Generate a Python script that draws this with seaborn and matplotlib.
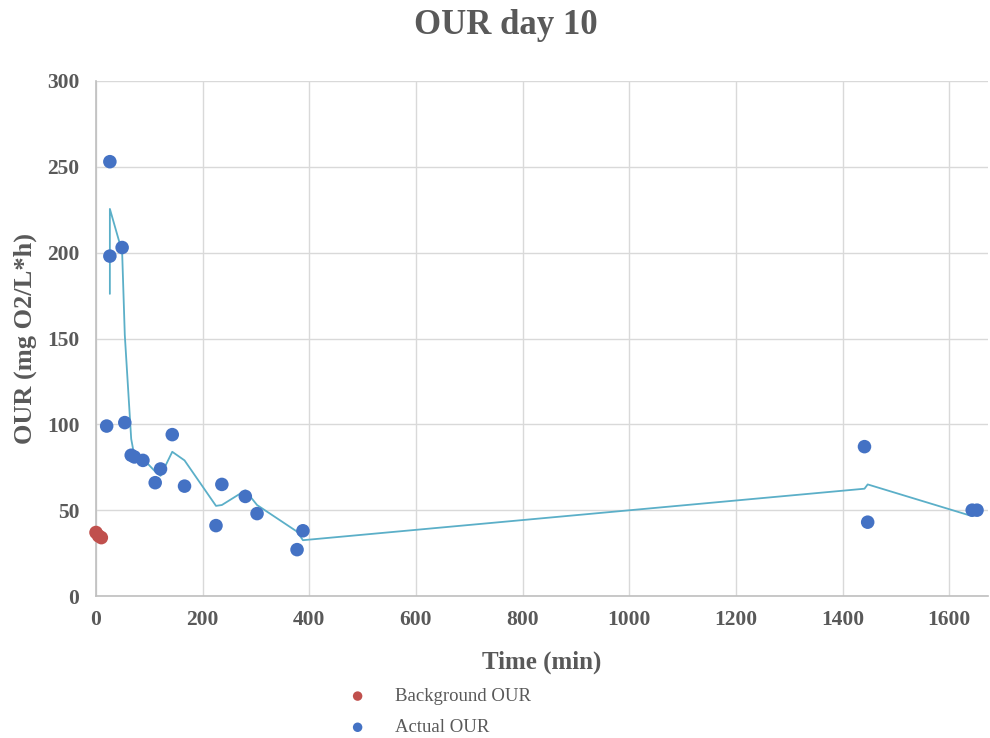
import matplotlib
matplotlib.use("Agg")
import matplotlib.pyplot as plt
import seaborn as sns
import pandas as pd

# Background respiration (before substrate addition)
bg_time = [0, 5, 10]
bg_our = [37, 35, 34]

# Measured oxygen uptake rate, in recorded order
act_time = [20, 26, 26, 49, 54, 66, 72, 88, 111, 121, 143, 166, 225, 236,
            280, 302, 377, 388, 1441, 1447, 1643, 1652]
act_our = [99, 253, 198, 203, 101, 82, 81, 79, 66, 74, 94, 64, 41, 65,
           58, 48, 27, 38, 87, 43, 50, 50]

x_ticks = [0, 200, 400, 600, 800, 1000, 1200, 1400, 1600]
y_ticks = [0, 50, 100, 150, 200, 250, 300]

TEXT = "#595959"
BLUE = "#4472C4"
RED = "#C0504D"
TREND = "#5BAFC8"

sns.set_theme(style="whitegrid")
plt.rcParams["font.family"] = ["Liberation Serif", "DejaVu Serif"]

bg = pd.DataFrame({"Time": bg_time, "OUR": bg_our})
act = pd.DataFrame({"Time": act_time, "OUR": act_our})
# Two-period moving average trendline of the measured series
trend = act.assign(OUR=act["OUR"].rolling(2).mean()).dropna()

fig = plt.figure(figsize=(9.9, 7.38), dpi=100)
ax = fig.add_axes([96 / 990, 1 - 596 / 738, 892 / 990, 515 / 738])

sns.lineplot(data=trend, x="Time", y="OUR", sort=False, estimator=None,
             color=TREND, linewidth=1.3, ax=ax, zorder=2)
sns.scatterplot(data=bg, x="Time", y="OUR", color=RED, s=95, edgecolor="none",
                ax=ax, label="Background OUR", zorder=3, clip_on=False)
sns.scatterplot(data=act, x="Time", y="OUR", color=BLUE, s=95, edgecolor="none",
                ax=ax, label="Actual OUR", zorder=3, clip_on=False)

ax.set_xlim(0, 892 / 0.5333)
ax.set_ylim(0, 300)
ax.set_xticks(x_ticks)
ax.set_yticks(y_ticks)
ax.grid(True, color="#D9D9D9", linewidth=1)
for side in ("top", "right"):
    ax.spines[side].set_visible(False)
for side in ("left", "bottom"):
    ax.spines[side].set_color("#BFBFBF")
    ax.spines[side].set_linewidth(1.2)
ax.tick_params(axis="x", length=0, labelsize=15.5, labelcolor=TEXT, pad=10)
ax.tick_params(axis="y", length=0, labelsize=15.5, labelcolor=TEXT, pad=12)
for lbl in ax.get_xticklabels() + ax.get_yticklabels():
    lbl.set_fontweight("bold")

ax.set_xlabel("Time (min)", fontsize=18, fontweight="bold", color=TEXT, labelpad=15)
ax.set_ylabel("OUR (mg O2/L*h)", fontsize=19, fontweight="bold", color=TEXT, labelpad=7)
fig.text(506 / 990, 1 - 26 / 738, "OUR day 10", ha="center", va="center",
         fontsize=25, fontweight="bold", color=TEXT)

ax.legend(loc="upper left", bbox_to_anchor=(322 / 990, 1 - 671 / 738),
          bbox_transform=fig.transFigure, frameon=False, fontsize=13.5,
          labelcolor=TEXT, handletextpad=1.0, labelspacing=0.75, markerscale=0.7)

fig.savefig("out.png", dpi=100)
